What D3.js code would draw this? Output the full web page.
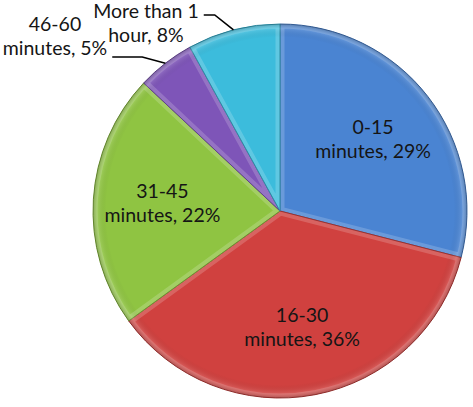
<!DOCTYPE html>
<html lang="en">
<head>
<meta charset="UTF-8">
<title>Commute time</title>
<script src="https://d3js.org/d3.v7.min.js"></script>
<style>
  body { margin: 0; background: #fff; }
  svg { display: block; font-family: Lato, 'Open Sans', sans-serif; }
  .label { font-size: 19.5px; fill: #151515; }
  .leader { fill: none; stroke: #000; stroke-width: 1.6; }
</style>
</head>
<body>
<svg width="473" height="407"></svg>
<script>
// data
const categories = ["0-15 minutes", "16-30 minutes", "31-45 minutes", "46-60 minutes", "More than 1 hour"];
const shares = [29, 36, 22, 5, 8];
const colors = ["#4a84d2", "#d0413f", "#8fc442", "#7e55b8", "#3cbcdc"];

const width = 473, height = 407;
const cx = 280, cy = 211, R = 187;
const lineH = 24;

const svg = d3.select("svg");
const defs = svg.append("defs");
const g = svg.append("g").attr("transform", `translate(${cx},${cy})`);

const pie = d3.pie().sort(null).value(d => d);
const arcs = pie(shares);
const arc = d3.arc().innerRadius(0).outerRadius(R);
const labelArc = d3.arc().innerRadius(R * 0.63).outerRadius(R * 0.63);

// slices
arcs.forEach((d, i) => {
    defs.append("clipPath").attr("id", "clip" + i)
        .append("path").attr("d", arc(d));
    const slice = g.append("g");
    slice.append("path")
        .attr("d", arc(d))
        .attr("fill", colors[i]);
    // soft bevel band inside the slice
    slice.append("path")
        .attr("d", arc(d))
        .attr("clip-path", `url(#clip${i})`)
        .attr("fill", "none")
        .attr("stroke", "#fff")
        .attr("stroke-opacity", 0.18)
        .attr("stroke-width", 9);
    slice.append("path")
        .attr("d", arc(d))
        .attr("fill", "none")
        .attr("stroke", d3.color(colors[i]).darker(0.8))
        .attr("stroke-width", 1);
});

// rim shading
const rim = defs.append("radialGradient").attr("id", "rim")
    .attr("cx", "50%").attr("cy", "50%").attr("r", "50%");
rim.append("stop").attr("offset", "0.93").attr("stop-color", "#000").attr("stop-opacity", 0);
rim.append("stop").attr("offset", "0.975").attr("stop-color", "#fff").attr("stop-opacity", 0.12);
rim.append("stop").attr("offset", "1").attr("stop-color", "#000").attr("stop-opacity", 0.18);
g.append("circle").attr("r", R).attr("fill", "url(#rim)").style("pointer-events", "none");

// labels
function splitLabel(cat, pct) {
    const words = cat.split(" ");
    const last = words.pop();
    return [words.join(" "), `${last}, ${pct}%`];
}

arcs.forEach((d, i) => {
    const lines = splitLabel(categories[i], shares[i]);
    if (shares[i] >= 10) {
        const [x, y] = labelArc.centroid(d);
        const t = g.append("text").attr("class", "label").attr("text-anchor", "middle");
        lines.forEach((s, k) => {
            t.append("tspan")
                .attr("x", x)
                .attr("y", y + (k - (lines.length - 1) / 2) * lineH)
                .attr("dy", "0.35em")
                .text(s);
        });
    } else {
        const mid = (d.startAngle + d.endAngle) / 2;
        const ea = mid - 0.07;
        const p = [R * Math.sin(mid), -R * Math.cos(mid)];
        const e = [R * 1.105 * Math.sin(ea), -R * 1.105 * Math.cos(ea)];
        // attach leader to the last line if there is room above, else to the first
        const roomAbove = cy + e[1] - 2 * lineH > 0;
        const legEnd = e[0] - (roomAbove ? 30 : 11);
        g.append("path").attr("class", "leader")
            .attr("d", d3.line()([p, e, [legEnd, e[1]]]));
        const firstBase = roomAbove ? e[1] - 2 - lineH : e[1] + 3;
        const t = g.append("text").attr("class", "label").attr("text-anchor", "middle");
        const tmp = [];
        lines.forEach((s, k) => {
            tmp.push(t.append("tspan").attr("y", firstBase + k * lineH).text(s));
        });
        // right-align the block, centre lines within it
        const w = d3.max(tmp, s => s.node().getComputedTextLength());
        tmp.forEach(s => s.attr("x", legEnd - 5 - w / 2));
    }
});
</script>
</body>
</html>
